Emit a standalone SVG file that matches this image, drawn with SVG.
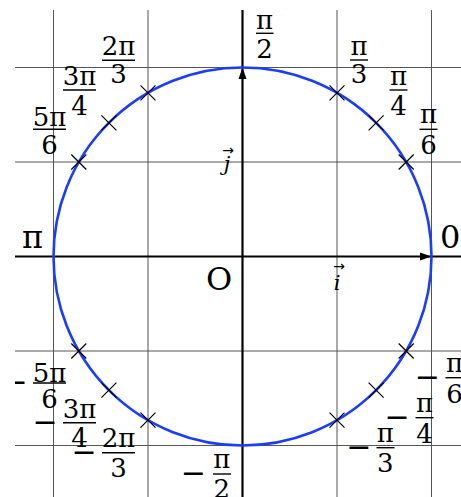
<svg xmlns="http://www.w3.org/2000/svg" width="461" height="497" viewBox="0 0 461 497">
<style>
.grid{stroke:#555;stroke-width:1;fill:none}
.axis{stroke:#000;stroke-width:2.2;fill:none}
.circ{stroke:#1a3cff;stroke-width:2.6;fill:none}
.cross{stroke:#000;stroke-width:1.2}
.bar{stroke:#000;stroke-width:1.4}
text{font-family:"DejaVu Serif","Liberation Serif",serif;fill:#000}
.fr{font-size:26px;text-anchor:middle}
.mi{font-size:30px;text-anchor:middle}
.big{font-size:32px}
.vec{font-style:italic;font-size:21px;text-anchor:middle}
.arr{font-family:"DejaVu Sans",sans-serif;font-size:14px;text-anchor:middle}
</style>
<defs>
<clipPath id="clip"><rect x="15" y="10" width="446" height="487"/></clipPath>
<path id="x" d="M-7.5,-7.5L7.5,7.5M-7.5,7.5L7.5,-7.5"/>
</defs>
<g clip-path="url(#clip)">
<g id="grid">
<line class="grid" x1="53.5" y1="10" x2="53.5" y2="497"/>
<line class="grid" x1="148" y1="10" x2="148" y2="497"/>
<line class="grid" x1="337" y1="10" x2="337" y2="497"/>
<line class="grid" x1="431.5" y1="10" x2="431.5" y2="497"/>
<line class="grid" x1="15" y1="67.5" x2="461" y2="67.5"/>
<line class="grid" x1="15" y1="162" x2="461" y2="162"/>
<line class="grid" x1="15" y1="351" x2="461" y2="351"/>
<line class="grid" x1="15" y1="445.5" x2="461" y2="445.5"/>
</g>
<g id="axes">
<line class="axis" x1="242.5" y1="10" x2="242.5" y2="497"/>
<line class="axis" x1="15" y1="256.5" x2="461" y2="256.5"/>
<path d="M242.5,67.5L238.5,79L246.5,79Z" fill="#000"/>
<path d="M431.5,256.5L420,252.5L420,260.5Z" fill="#000"/>
</g>
<g id="circle"><circle class="circ" cx="242.5" cy="256.5" r="189"/></g>
<g id="crosses" class="cross">
<use href="#x" x="406.2" y="162"/>
<use href="#x" x="376.1" y="122.9"/>
<use href="#x" x="337" y="92.8"/>
<use href="#x" x="148" y="92.8"/>
<use href="#x" x="108.9" y="122.9"/>
<use href="#x" x="78.8" y="162"/>
<use href="#x" x="406.2" y="351"/>
<use href="#x" x="376.1" y="390.1"/>
<use href="#x" x="337" y="420.2"/>
<use href="#x" x="148" y="420.2"/>
<use href="#x" x="108.9" y="390.1"/>
<use href="#x" x="78.8" y="351"/>
</g>
<g id="big-labels">
<text class="big" x="22" y="248">π</text>
<text class="big" x="440" y="248">0</text>
<text class="big" x="206" y="290">O</text>
</g>
<g id="vec-j"><text class="vec" x="227" y="171">j</text><text class="arr" x="228" y="154.5">→</text></g>
<g id="vec-i"><text class="vec" x="337" y="290">i</text><text class="arr" x="339" y="271">→</text></g>
<g id="pi2"><text class="fr" x="264.5" y="28.5">π</text><line class="bar" x1="256" y1="33.3" x2="273.5" y2="33.3"/><text class="fr" x="264.5" y="58.3">2</text></g>
<g id="pi3"><text class="fr" x="359" y="55">π</text><line class="bar" x1="350" y1="60" x2="368" y2="60"/><text class="fr" x="359" y="83.3">3</text></g>
<g id="pi4"><text class="fr" x="398.5" y="85">π</text><line class="bar" x1="389.5" y1="90" x2="407.5" y2="90"/><text class="fr" x="398.5" y="115">4</text></g>
<g id="pi6"><text class="fr" x="428.5" y="122.7">π</text><line class="bar" x1="419.5" y1="129.3" x2="437.5" y2="129.3"/><text class="fr" x="428.5" y="154.3">6</text></g>
<g id="p2pi3"><text class="fr" x="118.5" y="55">2π</text><line class="bar" x1="102" y1="60.3" x2="135" y2="60.3"/><text class="fr" x="118.5" y="83.3">3</text></g>
<g id="p3pi4"><text class="fr" x="79.5" y="85">3π</text><line class="bar" x1="63" y1="90" x2="96" y2="90"/><text class="fr" x="79.5" y="115">4</text></g>
<g id="p5pi6"><text class="fr" x="49.5" y="126">5π</text><line class="bar" x1="33" y1="129.3" x2="66" y2="129.3"/><text class="fr" x="49.5" y="154">6</text></g>
<g id="m5pi6"><text class="mi" x="15" y="392">−</text><text class="fr" x="49.5" y="381.7">5π</text><line class="bar" x1="33" y1="383" x2="66" y2="383"/><text class="fr" x="49.5" y="408.3">6</text></g>
<g id="m3pi4"><text class="mi" x="45" y="431.7">−</text><text class="fr" x="79.5" y="418.3">3π</text><line class="bar" x1="63" y1="422.7" x2="96" y2="422.7"/><text class="fr" x="79.5" y="447.3">4</text></g>
<g id="m2pi3"><text class="mi" x="84" y="461.7">−</text><text class="fr" x="118.5" y="447.3">2π</text><line class="bar" x1="102" y1="452.7" x2="135" y2="452.7"/><text class="fr" x="118.5" y="476.7">3</text></g>
<g id="mpi2"><text class="mi" x="193.3" y="483">−</text><text class="fr" x="221.7" y="468.3">π</text><line class="bar" x1="213" y1="474" x2="231" y2="474"/><text class="fr" x="221.7" y="498">2</text></g>
<g id="mpi3"><text class="mi" x="358.7" y="456.7">−</text><text class="fr" x="385.3" y="441.7">π</text><line class="bar" x1="376.5" y1="447.7" x2="394.5" y2="447.7"/><text class="fr" x="385.3" y="471.7">3</text></g>
<g id="mpi4"><text class="mi" x="397" y="426.7">−</text><text class="fr" x="424.5" y="411.7">π</text><line class="bar" x1="415.5" y1="417.7" x2="433.5" y2="417.7"/><text class="fr" x="424.5" y="442.7">4</text></g>
<g id="mpi6"><text class="mi" x="427.2" y="386.7">−</text><text class="fr" x="454.5" y="372">π</text><line class="bar" x1="445.5" y1="377.7" x2="463.5" y2="377.7"/><text class="fr" x="454.5" y="403.3">6</text></g>
</g>
</svg>
